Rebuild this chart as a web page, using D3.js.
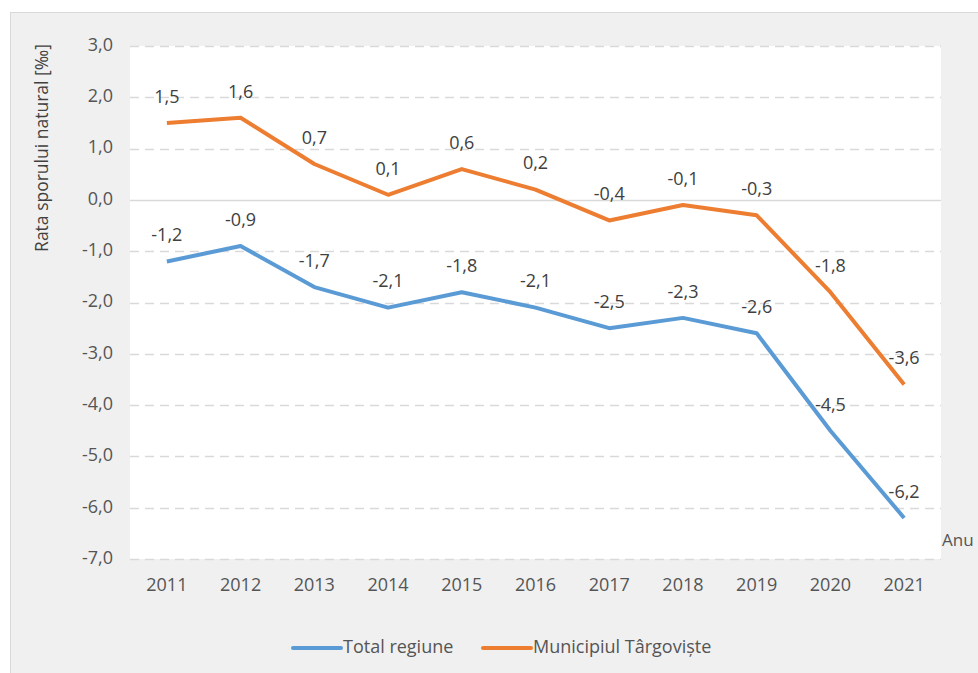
<!DOCTYPE html>
<html>
<head>
<meta charset="utf-8">
<script src="https://cdn.jsdelivr.net/npm/d3@7"></script>
<style>
  body { margin: 0; background: #fff; }
  svg text { font-family: "Open Sans", "Noto Sans", sans-serif; }
</style>
</head>
<body>
<svg id="chart" width="978" height="673"></svg>
<script>
const years = ["2011","2012","2013","2014","2015","2016","2017","2018","2019","2020","2021"];
const totalRegiune = [-1.2, -0.9, -1.7, -2.1, -1.8, -2.1, -2.5, -2.3, -2.6, -4.5, -6.2];
const municipiul = [1.5, 1.6, 0.7, 0.1, 0.6, 0.2, -0.4, -0.1, -0.3, -1.8, -3.6];
const yTicks = [3, 2, 1, 0, -1, -2, -3, -4, -5, -6, -7];
const seriesNames = ["Total regiune", "Municipiul Târgoviște"];
const colors = ["#5b9bd5", "#ed7d31"];

const svg = d3.select("#chart");
const fmt = v => d3.format(".1f")(v).replace(".", ",").replace("−", "-");

// panel background
svg.append("rect")
    .attr("x", 10.5).attr("y", 12.5)
    .attr("width", 980).attr("height", 680)
    .attr("fill", "#f0f0f0")
    .attr("stroke", "#d9d9d9");

const plot = {left: 130, right: 941, top: 46, bottom: 559};

svg.append("rect")
    .attr("x", plot.left).attr("y", plot.top)
    .attr("width", plot.right - plot.left).attr("height", plot.bottom - plot.top)
    .attr("fill", "#fff");

const x = d3.scaleBand().domain(years).range([plot.left, plot.right]);
const y = d3.scaleLinear().domain([-7, 3]).range([plot.bottom, plot.top]);

// gridlines (zero line solid)
svg.append("g")
    .selectAll("line")
    .data(yTicks)
    .enter().append("line")
    .attr("x1", plot.left).attr("x2", plot.right)
    .attr("y1", d => Math.round(y(d)) + 0.5)
    .attr("y2", d => Math.round(y(d)) + 0.5)
    .attr("stroke", "#d9d9d9")
    .attr("stroke-width", 1.5)
    .attr("stroke-dasharray", d => d === 0 ? null : "9,6");

// y tick labels
svg.append("g")
    .selectAll("text")
    .data(yTicks)
    .enter().append("text")
    .attr("x", 113)
    .attr("y", d => y(d))
    .attr("text-anchor", "end")
    .attr("dominant-baseline", "middle")
    .attr("font-size", 18)
    .attr("fill", "#555")
    .text(d => fmt(d));

// x tick labels
svg.append("g")
    .selectAll("text")
    .data(years)
    .enter().append("text")
    .attr("x", d => x(d) + x.bandwidth() / 2)
    .attr("y", 586)
    .attr("text-anchor", "middle")
    .attr("dominant-baseline", "middle")
    .attr("font-size", 18)
    .attr("fill", "#555")
    .text(d => d);

// axis titles
svg.append("text")
    .attr("transform", "translate(43,148) rotate(-90)")
    .attr("text-anchor", "middle")
    .attr("dominant-baseline", "middle")
    .attr("font-size", 17.5)
    .attr("fill", "#404040")
    .text("Rata sporului natural [‰]");

svg.append("text")
    .attr("x", 942).attr("y", 541)
    .attr("dominant-baseline", "middle")
    .attr("font-size", 17)
    .attr("fill", "#555")
    .text("Anu");

// lines and labels
const line = d3.line()
    .x((d, i) => x(years[i]) + x.bandwidth() / 2)
    .y(d => y(d));

[totalRegiune, municipiul].forEach((values, s) => {
    svg.append("path")
        .datum(values)
        .attr("d", line)
        .attr("fill", "none")
        .attr("stroke", colors[s])
        .attr("stroke-width", 4)
        .attr("stroke-linejoin", "round");

    svg.append("g")
        .selectAll("text")
        .data(values)
        .enter().append("text")
        .attr("x", (d, i) => x(years[i]) + x.bandwidth() / 2)
        .attr("y", d => y(d) - 25)
        .attr("text-anchor", "middle")
        .attr("dominant-baseline", "middle")
        .attr("font-size", 18)
        .attr("fill", "#404040")
        .text(d => fmt(d));
});

// legend
const legendX = [293, 483];
seriesNames.forEach((name, s) => {
    const g = svg.append("g").attr("transform", `translate(${legendX[s]},648)`);
    g.append("line")
        .attr("x1", 0).attr("x2", 48)
        .attr("stroke", colors[s])
        .attr("stroke-width", 4)
        .attr("stroke-linecap", "round");
    g.append("text")
        .attr("x", 50)
        .attr("dominant-baseline", "middle")
        .attr("font-size", 18)
        .attr("fill", "#555")
        .text(name);
});
</script>
</body>
</html>
